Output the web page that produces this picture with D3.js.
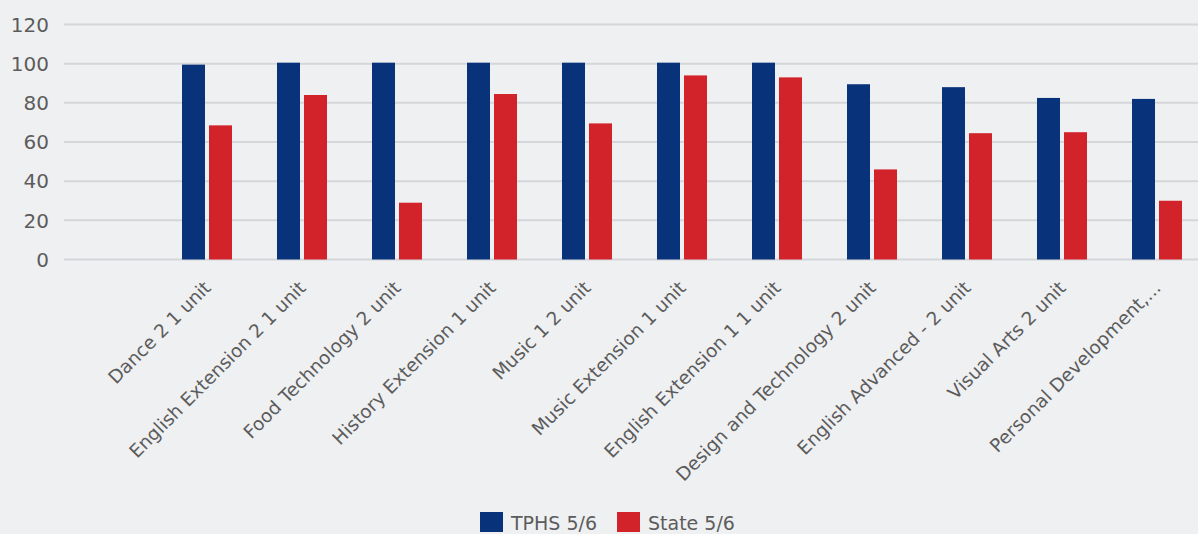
<!DOCTYPE html>
<html>
<head>
<meta charset="utf-8">
<script src="https://cdn.jsdelivr.net/npm/d3@7"></script>
<style>
  html, body { margin: 0; padding: 0; background: #eff0f2; }
  svg { display: block; font-family: "DejaVu Sans", Verdana, sans-serif; }
  .grid line { stroke: #d5d6d9; stroke-width: 2; }
  .axis-label { fill: #5c5c5c; }
</style>
</head>
<body>
<div id="chart"></div>
<script>
// data
const subjects = [
    "Dance 2 1 unit",
    "English Extension 2 1 unit",
    "Food Technology 2 unit",
    "History Extension 1 unit",
    "Music 1 2 unit",
    "Music Extension 1 unit",
    "English Extension 1 1 unit",
    "Design and Technology 2 unit",
    "English Advanced - 2 unit",
    "Visual Arts 2 unit",
    "Personal Development,..."
];
const tphs = [99.5, 100.5, 100.5, 100.5, 100.5, 100.5, 100.5, 89.5, 88, 82.5, 82];
const state = [68.5, 84, 29, 84.5, 69.5, 94, 93, 46, 64.5, 65, 30];
const seriesNames = ["TPHS 5/6", "State 5/6"];
const yTicks = [0, 20, 40, 60, 80, 100, 120];

const width = 1198,
    height = 534,
    colors = ["#08327a", "#d2232a"];

const svg = d3.select("#chart").append("svg")
    .attr("width", width)
    .attr("height", height);

// scales
const xScale = d3.scaleBand()
    .domain(subjects)
    .range([159.5, 1204.5]);

const yScale = d3.scaleLinear()
    .domain([0, 120])
    .range([259.5, 24.5]);

const barW = 23, barGap = 4;

// gridlines
svg.append("g")
    .attr("class", "grid")
    .selectAll("line")
    .data(yTicks)
    .join("line")
    .attr("x1", 64)
    .attr("x2", width)
    .attr("y1", (d) => yScale(d))
    .attr("y2", (d) => yScale(d));

// y axis labels
svg.append("g")
    .selectAll("text")
    .data(yTicks)
    .join("text")
    .attr("class", "axis-label")
    .attr("x", 49)
    .attr("y", (d) => yScale(d))
    .attr("dy", "0.36em")
    .attr("text-anchor", "end")
    .style("font-size", "20px")
    .text((d) => d);

// bars
const rows = subjects.map((s, i) => ({ subject: s, values: [tphs[i], state[i]] }));

const groups = svg.append("g")
    .selectAll("g")
    .data(rows)
    .join("g")
    .attr("transform", (d) => "translate(" + (xScale(d.subject) + xScale.bandwidth() / 2) + ",0)");

groups.selectAll("rect")
    .data((d) => d.values)
    .join("rect")
    .attr("x", (d, i) => i === 0 ? -(barW + barGap / 2) : barGap / 2)
    .attr("y", (d) => yScale(d))
    .attr("width", barW)
    .attr("height", (d) => yScale(0) - yScale(d))
    .attr("fill", (d, i) => colors[i]);

// x labels
svg.append("g")
    .selectAll("text")
    .data(subjects)
    .join("text")
    .attr("class", "axis-label")
    .attr("text-anchor", "end")
    .style("font-size", "18.5px")
    .attr("transform", (d) => "translate(" + (xScale(d) + xScale.bandwidth() / 2 + 5) + ",289) rotate(-45)")
    .text((d) => d);

// legend
const legend = svg.append("g")
    .selectAll("g")
    .data(seriesNames)
    .join("g")
    .attr("transform", (d, i) => "translate(" + (i === 0 ? 480 : 617) + ",512)");

legend.append("rect")
    .attr("width", 23)
    .attr("height", 20)
    .attr("fill", (d, i) => colors[i]);

legend.append("text")
    .attr("class", "axis-label")
    .attr("x", 31)
    .attr("y", 18)
    .style("font-size", "19px")
    .text((d) => d);
</script>
</body>
</html>
